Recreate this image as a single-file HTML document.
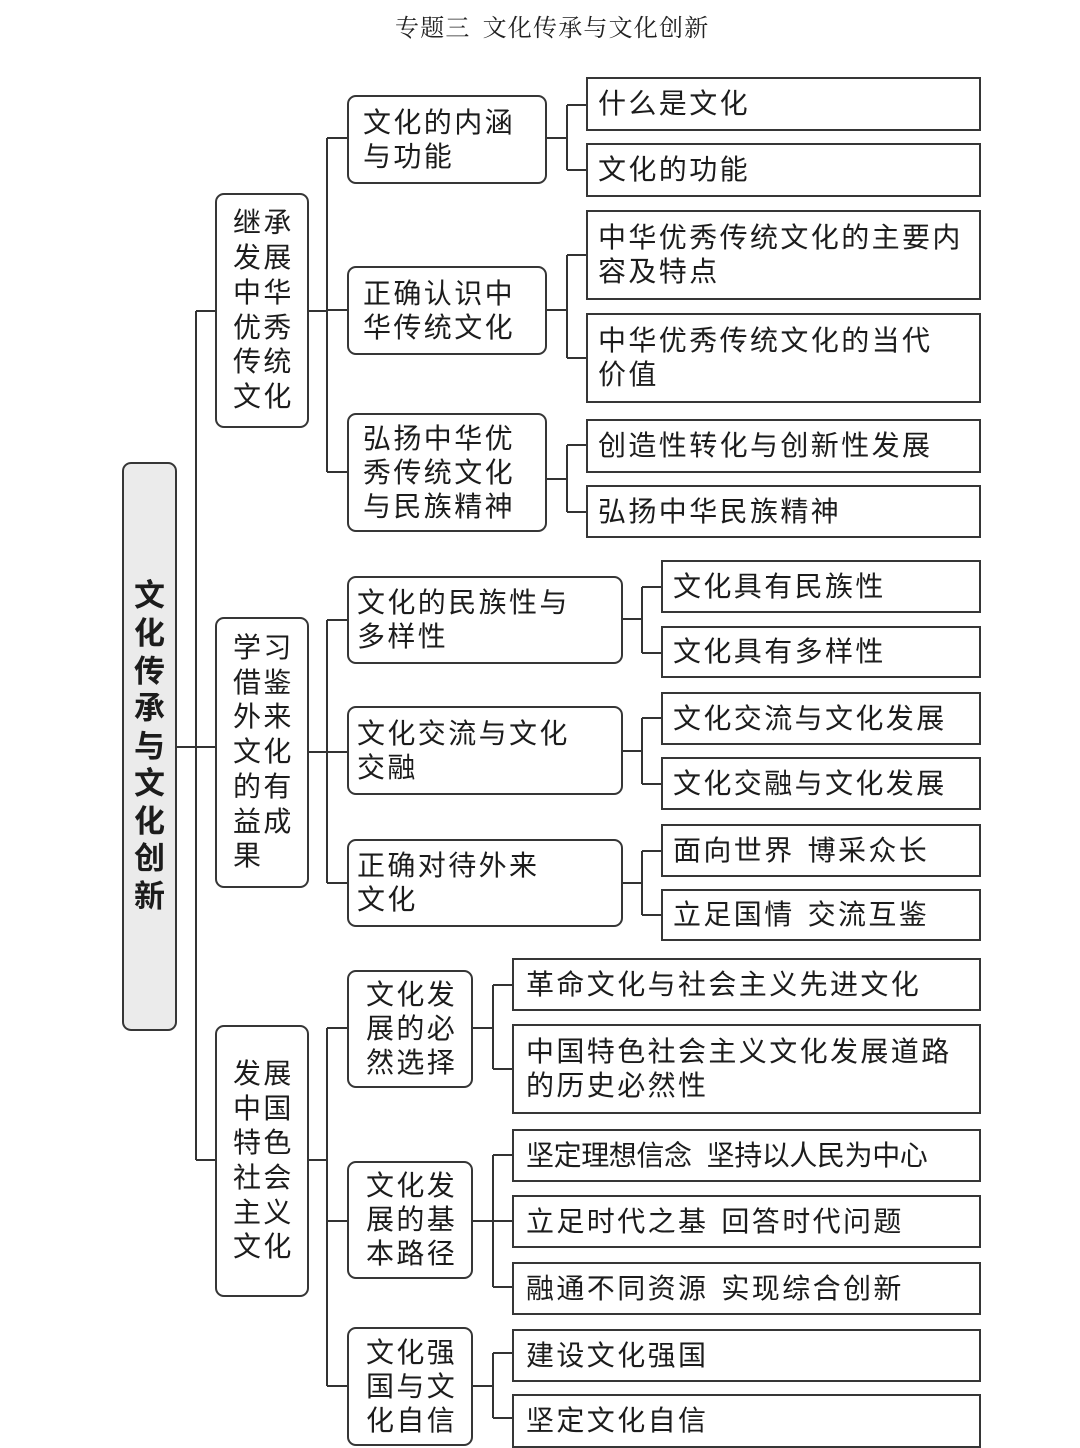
<!DOCTYPE html>
<html><head><meta charset="utf-8">
<style>
html,body{margin:0;padding:0;}
body{width:1080px;height:1444px;position:relative;overflow:hidden;background:#fff;color:#1c1c1c;
font-family:"Liberation Sans","Noto Sans CJK SC",sans-serif;}
.t{position:absolute;left:395px;top:15px;line-height:28px;font-size:24px;letter-spacing:1.2px;
font-family:"Liberation Serif","Noto Serif CJK SC",serif;color:#222;white-space:nowrap;}
.b{position:absolute;box-sizing:border-box;border:2px solid #363636;background:#fff;
display:flex;align-items:center;font-size:28px;letter-spacing:2.4px;line-height:34px;white-space:nowrap;}
.r{border-radius:9px;}
.root{background:#ebebeb;justify-content:center;font-weight:bold;font-size:31px;letter-spacing:0;line-height:37.6px;text-align:center;}
.l1{padding-left:16px;line-height:34.7px;}
.g1{padding-left:14px;}
.g2{padding-left:8px;}
.g3{padding-left:17px;}
.lf{padding-left:10px;}
.lf3{padding-left:12px;}
i{display:inline-block;width:13px;}
svg{position:absolute;left:0;top:0;}
</style></head><body>
<div class="t">专题三<i style="width:12px"></i>文化传承与文化创新</div>

<svg width="1080" height="1444" viewBox="0 0 1080 1444">
<path fill="none" stroke="#333" stroke-width="2" d="
M177 747 H215
M196 311 V1160 M196 311 H215 M196 1160 H215
M309 311 H327 M327 138 V472 M327 138 H347 M327 310 H347 M327 472 H347
M547 138 H567 M567 105 V170 M567 105 H586 M567 170 H586
M547 310 H567 M567 255 V358 M567 255 H586 M567 358 H586
M547 479 H567 M567 445 V512 M567 445 H586 M567 512 H586
M309 752 H327 M327 620 V883 M327 620 H347 M327 752 H347 M327 883 H347
M623 619 H642 M642 587 V653 M642 587 H661 M642 653 H661
M623 751 H642 M642 718 V784 M642 718 H661 M642 784 H661
M623 883 H642 M642 851 V915 M642 851 H661 M642 915 H661
M309 1160 H327 M327 1028 V1386 M327 1028 H347 M327 1221 H347 M327 1386 H347
M473 1028 H493 M493 985 V1069 M493 985 H512 M493 1069 H512
M473 1221 H493 M493 1155 V1287 M493 1155 H512 M493 1221 H512 M493 1287 H512
M473 1386 H493 M493 1353 V1418 M493 1353 H512 M493 1418 H512
"/>
</svg>

<!-- root -->
<div class="b r root" style="left:122px;top:462px;width:55px;height:569px;"><div>文<br>化<br>传<br>承<br>与<br>文<br>化<br>创<br>新</div></div>

<!-- level 1 -->
<div class="b r l1" style="left:215px;top:193px;width:94px;height:235px;"><div>继承<br>发展<br>中华<br>优秀<br>传统<br>文化</div></div>
<div class="b r l1" style="left:215px;top:617px;width:94px;height:271px;"><div>学习<br>借鉴<br>外来<br>文化<br>的有<br>益成<br>果</div></div>
<div class="b r l1" style="left:215px;top:1025px;width:94px;height:272px;"><div>发展<br>中国<br>特色<br>社会<br>主义<br>文化</div></div>

<!-- level 2 group 1 -->
<div class="b r g1" style="left:347px;top:95px;width:200px;height:89px;"><div>文化的内涵<br>与功能</div></div>
<div class="b r g1" style="left:347px;top:266px;width:200px;height:89px;"><div>正确认识中<br>华传统文化</div></div>
<div class="b r g1" style="left:347px;top:413px;width:200px;height:119px;"><div>弘扬中华优<br>秀传统文化<br>与民族精神</div></div>

<!-- level 2 group 2 -->
<div class="b r g2" style="left:347px;top:576px;width:276px;height:88px;"><div>文化的民族性与<br>多样性</div></div>
<div class="b r g2" style="left:347px;top:706px;width:276px;height:89px;"><div>文化交流与文化<br>交融</div></div>
<div class="b r g2" style="left:347px;top:839px;width:276px;height:88px;"><div>正确对待外来<br>文化</div></div>

<!-- level 2 group 3 -->
<div class="b r g3" style="left:347px;top:970px;width:126px;height:118px;"><div>文化发<br>展的必<br>然选择</div></div>
<div class="b r g3" style="left:347px;top:1161px;width:126px;height:118px;"><div>文化发<br>展的基<br>本路径</div></div>
<div class="b r g3" style="left:347px;top:1327px;width:126px;height:119px;"><div>文化强<br>国与文<br>化自信</div></div>

<!-- leaves group 1 -->
<div class="b lf" style="left:586px;top:77px;width:395px;height:54px;">什么是文化</div>
<div class="b lf" style="left:586px;top:143px;width:395px;height:54px;">文化的功能</div>
<div class="b lf" style="left:586px;top:210px;width:395px;height:90px;"><div>中华优秀传统文化的主要内<br>容及特点</div></div>
<div class="b lf" style="left:586px;top:313px;width:395px;height:90px;"><div>中华优秀传统文化的当代<br>价值</div></div>
<div class="b lf" style="left:586px;top:419px;width:395px;height:54px;">创造性转化与创新性发展</div>
<div class="b lf" style="left:586px;top:485px;width:395px;height:53px;">弘扬中华民族精神</div>

<!-- leaves group 2 -->
<div class="b lf" style="left:661px;top:560px;width:320px;height:53px;">文化具有民族性</div>
<div class="b lf" style="left:661px;top:626px;width:320px;height:52px;">文化具有多样性</div>
<div class="b lf" style="left:661px;top:692px;width:320px;height:53px;">文化交流与文化发展</div>
<div class="b lf" style="left:661px;top:757px;width:320px;height:53px;">文化交融与文化发展</div>
<div class="b lf" style="left:661px;top:824px;width:320px;height:53px;">面向世界<i></i>博采众长</div>
<div class="b lf" style="left:661px;top:889px;width:320px;height:52px;">立足国情<i></i>交流互鉴</div>

<!-- leaves group 3 -->
<div class="b lf3" style="left:512px;top:958px;width:469px;height:53px;">革命文化与社会主义先进文化</div>
<div class="b lf3" style="left:512px;top:1024px;width:469px;height:90px;"><div>中国特色社会主义文化发展道路<br>的历史必然性</div></div>
<div class="b lf3" style="left:512px;top:1129px;width:469px;height:53px;letter-spacing:-0.4px;">坚定理想信念<i style="width:15px"></i>坚持以人民为中心</div>
<div class="b lf3" style="left:512px;top:1195px;width:469px;height:53px;">立足时代之基<i></i>回答时代问题</div>
<div class="b lf3" style="left:512px;top:1262px;width:469px;height:53px;">融通不同资源<i></i>实现综合创新</div>
<div class="b lf3" style="left:512px;top:1329px;width:469px;height:53px;">建设文化强国</div>
<div class="b lf3" style="left:512px;top:1394px;width:469px;height:54px;">坚定文化自信</div>
</body></html>
